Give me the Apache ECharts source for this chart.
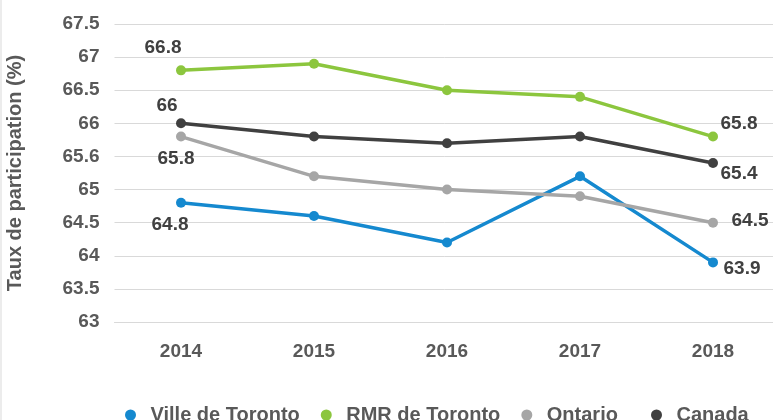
<!DOCTYPE html>
<html>
<head>
<meta charset="utf-8">
<script src="https://cdn.jsdelivr.net/npm/echarts@6/dist/echarts.min.js"></script>
<style>
  html, body { margin: 0; padding: 0; background: #fff; }
  #chart { width: 773px; height: 420px; }
</style>
</head>
<body>
<div id="chart"></div>
<script>
// données
const years = ['2014', '2015', '2016', '2017', '2018'];
const villeToronto = [64.8, 64.6, 64.2, 65.2, 63.9];
const rmrToronto = [66.8, 66.9, 66.5, 66.4, 65.8];
const ontario = [65.8, 65.2, 65.0, 64.9, 64.5];
const canada = [66.0, 65.8, 65.7, 65.8, 65.4];
// étiquettes de l'axe Y telles qu'affichées (65.6 à la place de 65.5)
const yTickLabels = ['63', '63.5', '64', '64.5', '65', '65.6', '66', '66.5', '67', '67.5'];

const font = 'Liberation Sans, Arial, sans-serif';

// étiquettes seulement sur le premier et le dernier point
function withEndLabels(values, firstOffset, lastOffset) {
  return values.map((v, i) => {
    if (i === 0) return { value: v, label: { show: true, offset: firstOffset } };
    if (i === values.length - 1) return { value: v, label: { show: true, offset: lastOffset } };
    return v;
  });
}

function lineSeries(name, color, data) {
  return {
    name: name,
    type: 'line',
    data: data,
    symbol: 'circle',
    symbolSize: 10,
    lineStyle: { width: 3.5, color: color },
    itemStyle: { color: color },
    label: {
      show: false,
      position: 'inside',
      color: '#404040',
      fontFamily: font,
      fontWeight: 'bold',
      fontSize: 19
    },
    emphasis: { disabled: true }
  };
}

function legendAt(left, names) {
  return {
    left: left,
    top: 400,
    icon: 'circle',
    itemWidth: 30,
    itemHeight: 11,
    itemGap: 21,
    textStyle: { color: '#595959', fontFamily: font, fontWeight: 'bold', fontSize: 20 },
    data: names
  };
}

const chart = echarts.init(document.getElementById('chart'), null, { renderer: 'canvas' });

chart.setOption({
  animation: false,
  backgroundColor: '#fff',
  color: ['#1589cf', '#8cc63e', '#a6a6a6', '#404040'],
  // la zone de tracé dépasse à droite, comme dans l'original
  grid: { left: 114.5, width: 665, top: 24, bottom: 98, outerBoundsMode: 'none' },
  graphic: [{
    type: 'line',
    shape: { x1: 1, y1: 0, x2: 1, y2: 420 },
    style: { stroke: '#d9d9d9', lineWidth: 1 }
  }],
  // deux légendes : l'écart avant « Canada » est plus grand
  legend: [
    legendAt(120, ['Ville de Toronto', 'RMR de Toronto', 'Ontario']),
    legendAt(646, ['Canada'])
  ],
  xAxis: {
    type: 'category',
    data: years,
    boundaryGap: true,
    axisLine: { lineStyle: { color: '#d9d9d9' } },
    axisTick: { show: false },
    axisLabel: { color: '#595959', fontFamily: font, fontWeight: 'bold', fontSize: 19, margin: 20 }
  },
  yAxis: {
    type: 'value',
    min: 63,
    max: 67.5,
    interval: 0.5,
    name: 'Taux de participation (%)',
    nameLocation: 'middle',
    nameGap: 89,
    nameTextStyle: { color: '#595959', fontFamily: font, fontWeight: 'bold', fontSize: 20 },
    axisLine: { show: false },
    axisTick: { show: false },
    splitLine: { lineStyle: { color: '#d9d9d9', width: 1 } },
    axisLabel: {
      color: '#595959', fontFamily: font, fontWeight: 'bold', fontSize: 19, margin: 15,
      formatter: (v, idx) => yTickLabels[idx]
    }
  },
  series: [
    lineSeries('Ville de Toronto', '#1589cf', withEndLabels(villeToronto, [-11, 22], [29, 6])),
    lineSeries('RMR de Toronto', '#8cc63e', withEndLabels(rmrToronto, [-18, -23], [26, -13])),
    lineSeries('Ontario', '#a6a6a6', withEndLabels(ontario, [-5, 22], [37, -2])),
    lineSeries('Canada', '#404040', withEndLabels(canada, [-14, -18], [26, 11]))
  ]
});
</script>
</body>
</html>
